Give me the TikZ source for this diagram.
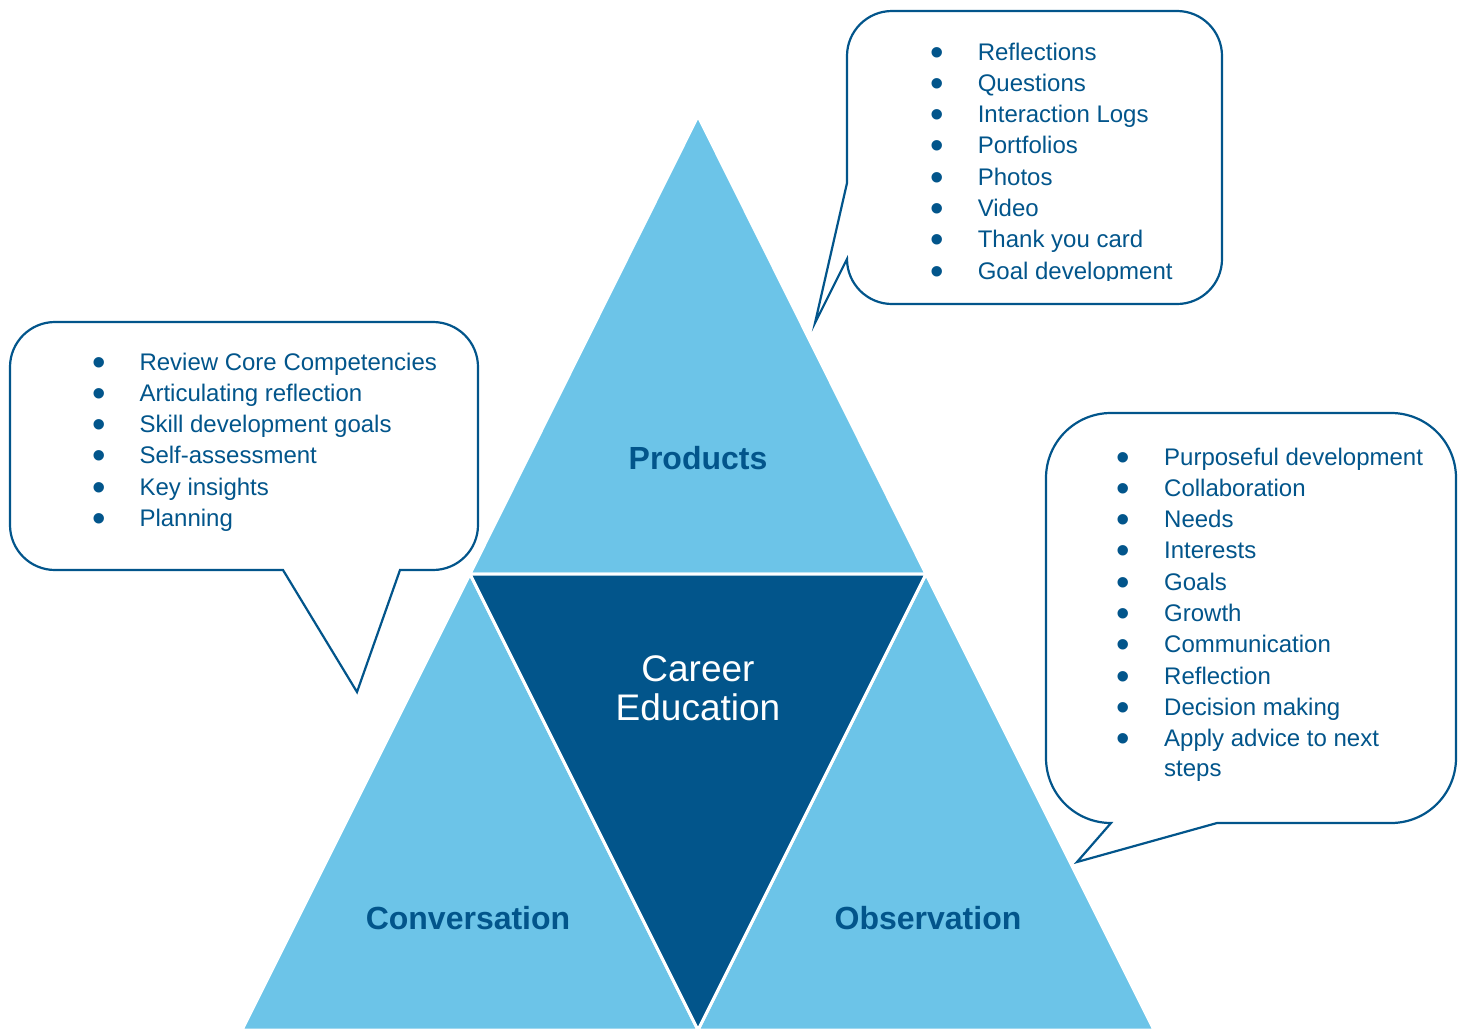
\documentclass[tikz,border=0pt]{standalone}
\usepackage{fontspec}
\setmainfont{Liberation Sans}
\usepackage{xcolor}
\usepackage{graphicx}
\usepackage{tikz}

\definecolor{cedark}{HTML}{02558B}
\definecolor{celight}{HTML}{6CC4E8}
\newcommand{\dotitem}{\makebox[47.5pt][l]{\raisebox{-5pt}{\scalebox{1.6}{\textbullet}}}}

\tikzset{
	part/.style={fill=celight, draw=white, line width=3pt, line join=round},
	core/.style={fill=cedark, draw=white, line width=3pt, line join=round},
	bubble/.style={draw=cedark, fill=white, line width=2.2pt, line join=miter},
	partlabel/.style={text=cedark, font=\bfseries\fontsize{32}{38}\selectfont, inner sep=0pt},
	itemlist/.style={text=cedark, font=\fontsize{24}{31.3}\selectfont, inner sep=0pt, anchor=base west},
}

\begin{document}
\begin{tikzpicture}[x=1pt, y=-1pt]
	\clip (0,0) rectangle (1461,1028);
	\coordinate (apex) at (698,116);
	\coordinate (midl) at (470,574);
	\coordinate (midr) at (926,574);
	\coordinate (botl) at (242,1030);
	\coordinate (botm) at (698,1030);
	\coordinate (botr) at (1154,1030);
	\draw[part] (apex) -- (midr) -- (midl) -- cycle;
	\draw[part] (midl) -- (botm) -- (botl) -- cycle;
	\draw[part] (midr) -- (botr) -- (botm) -- cycle;
	\draw[core] (midl) -- (midr) -- (botm) -- cycle;
	\node[partlabel] (products) at (698,458) {Products};
	\node[partlabel] (conversation) at (468,918) {Conversation};
	\node[partlabel] (observation) at (928,918) {Observation};
	\node[text=white, font=\fontsize{37}{39.3}\selectfont, align=center, inner sep=0pt] (career) at (698,688) {Career\\Education};

	\draw[bubble] (847,56) arc (180:270:45) -- (1177,11) arc (270:360:45) -- (1222,259) arc (0:90:45)
		-- (892,304) arc (90:180:45) -- (815,323) -- (847,183) -- cycle;
	\begin{scope}
		\clip (847,11) rectangle (1222,280);
		\node[itemlist] (productlist) at (930.1,60) {\begin{tabular}[t]{@{}l@{}}
			\dotitem Reflections\\
			\dotitem Questions\\
			\dotitem Interaction Logs\\
			\dotitem Portfolios\\
			\dotitem Photos\\
			\dotitem Video\\
			\dotitem Thank you card\\
			\dotitem Goal development
		\end{tabular}};
	\end{scope}

	\draw[bubble] (10,367) arc (180:270:45) -- (433,322) arc (270:360:45) -- (478,525) arc (0:90:45)
		-- (400,570) -- (357,692) -- (283,570) -- (55,570) arc (90:180:45) -- cycle;
	\node[itemlist] (conversationlist) at (91.8,370) {\begin{tabular}[t]{@{}l@{}}
		\dotitem Review Core Competencies\\
		\dotitem Articulating reflection\\
		\dotitem Skill development goals\\
		\dotitem Self-assessment\\
		\dotitem Key insights\\
		\dotitem Planning
	\end{tabular}};

	\draw[bubble] (1046,478) arc (180:270:65) -- (1391,413) arc (270:360:65) -- (1456,758) arc (0:90:65)
		-- (1217,823) -- (1077,862) -- (1111,823) arc (90:180:65) -- cycle;
	\node[itemlist] (observationlist) at (1116.5,465) {\begin{tabular}[t]{@{}l@{}}
		\dotitem Purposeful development\\
		\dotitem Collaboration\\
		\dotitem Needs\\
		\dotitem Interests\\
		\dotitem Goals\\
		\dotitem Growth\\
		\dotitem Communication\\
		\dotitem Reflection\\
		\dotitem Decision making\\
		\dotitem Apply advice to next\\[-1.7pt]
		\hspace{47.5pt}steps
	\end{tabular}};
\end{tikzpicture}
\end{document}
